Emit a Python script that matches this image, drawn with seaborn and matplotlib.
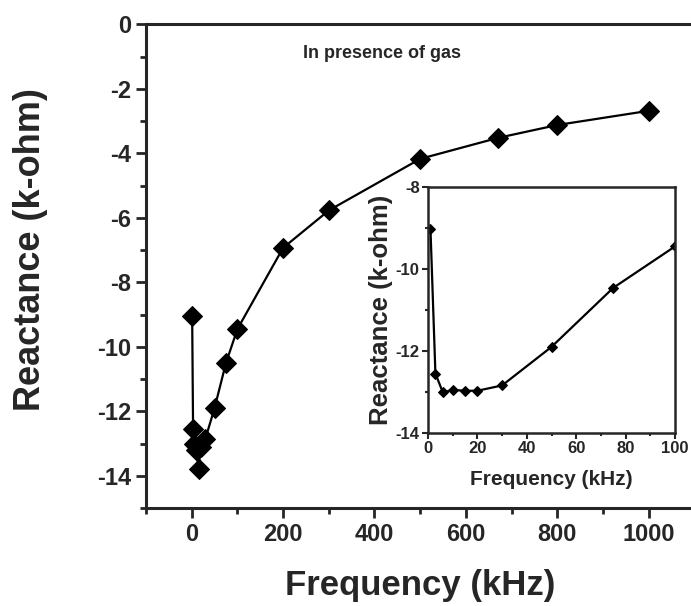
import numpy as np
import pandas as pd
import matplotlib
matplotlib.use("Agg")
import matplotlib.pyplot as plt
from matplotlib.ticker import MultipleLocator
import seaborn as sns

# datos
freq_main = [1, 3, 6, 10, 15, 20, 30, 50, 75, 100, 200, 300, 500, 670, 800, 1000]
react_main = [-9.05, -12.55, -13.0, -13.2, -13.8, -13.1, -12.85, -11.9, -10.5,
              -9.45, -6.93, -5.77, -4.17, -3.52, -3.12, -2.68]

freq_inset = [1, 3, 6, 10, 15, 20, 30, 50, 75, 100]
react_inset = [-9.03, -12.55, -13.01, -12.95, -12.97, -12.97, -12.84, -11.9,
               -10.46, -9.45]

x_label = "Frequency (kHz)"
y_label = "Reactance (k-ohm)"
note = "In presence of gas"

df_main = pd.DataFrame({"freq": freq_main, "react": react_main})
df_inset = pd.DataFrame({"freq": freq_inset, "react": react_inset})

sns.set_style("ticks")
plt.rcParams["font.family"] = ["Liberation Sans", "DejaVu Sans"]
plt.rcParams["font.weight"] = "bold"
plt.rcParams["axes.unicode_minus"] = False

fig = plt.figure(figsize=(6.91, 6.06), dpi=100)

# * grafico principal
ax = fig.add_axes([0.2113, 0.1617, 0.7936, 0.798])
sns.lineplot(data=df_main, x="freq", y="react", sort=False, ax=ax,
             color="black", linewidth=1.6, marker="D", markersize=10,
             markeredgecolor="black", markerfacecolor="black")
ax.set_xlim(-100, 1100)
ax.set_ylim(-15, 0)
ax.xaxis.set_major_locator(MultipleLocator(200))
ax.xaxis.set_minor_locator(MultipleLocator(100))
ax.yaxis.set_major_locator(MultipleLocator(2))
ax.yaxis.set_minor_locator(MultipleLocator(1))
ax.set_xticks([0, 200, 400, 600, 800, 1000])
ax.spines["right"].set_visible(False)
for s in ["left", "top", "bottom"]:
    ax.spines[s].set_linewidth(2.2)
ax.tick_params(axis="both", which="major", length=7, width=2, labelsize=17)
ax.tick_params(axis="both", which="minor", length=4, width=2)
ax.tick_params(top=False, right=False, which="both")
ax.set_xlabel(x_label, fontsize=25, fontweight="bold", labelpad=17)
ax.set_ylabel(y_label, fontsize=26, fontweight="bold", va="center")
ax.yaxis.set_label_coords(-0.21, 0.535)
ax.text(0.431, 0.94, note, transform=ax.transAxes, ha="center", va="center",
        fontsize=13, fontweight="bold")

# * inset
axi = fig.add_axes([0.6194, 0.2855, 0.3575, 0.406])
sns.lineplot(data=df_inset, x="freq", y="react", sort=False, ax=axi,
             color="black", linewidth=1.6, marker="D", markersize=5.5,
             markeredgecolor="black", markerfacecolor="black")
axi.set_xlim(0, 100)
axi.set_ylim(-14, -8)
axi.xaxis.set_major_locator(MultipleLocator(20))
axi.xaxis.set_minor_locator(MultipleLocator(10))
axi.yaxis.set_major_locator(MultipleLocator(2))
axi.yaxis.set_minor_locator(MultipleLocator(1))
for s in axi.spines.values():
    s.set_linewidth(1.8)
axi.tick_params(axis="both", which="major", length=4, width=1.5, labelsize=12, pad=2)
axi.tick_params(axis="both", which="minor", length=2.5, width=1.5)
axi.set_xlabel(x_label, fontsize=15, fontweight="bold", labelpad=10)
axi.set_ylabel(y_label, fontsize=18.5, fontweight="bold", labelpad=2)

fig.savefig("out.png", dpi=100)
